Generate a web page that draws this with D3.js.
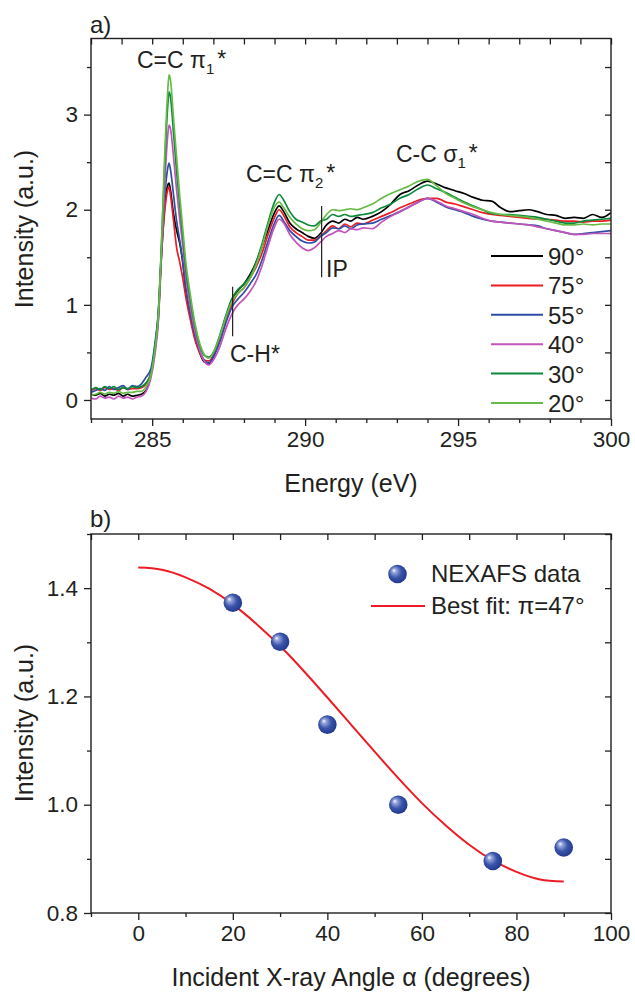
<!DOCTYPE html>
<html>
<head>
<meta charset="utf-8">
<script src="https://cdn.jsdelivr.net/npm/d3@7"></script>
<style>
  body { margin: 0; background: #fff; }
  text { font-family: "Liberation Sans", Arial, sans-serif; fill: #231f20; }
</style>
</head>
<body>
<div id="my_dataviz"></div>
<script>

// ---- data: panel a) NEXAFS spectra
var energy = [283.0,283.15,283.3,283.45,283.6,283.75,283.9,284.05,284.2,284.35,284.5,284.65,284.8,
  284.95,285.1,285.2,285.3,285.4,285.5,285.55,285.6,
  285.7,285.8,285.9,286.0,286.1,286.25,286.4,286.55,286.7,286.85,287.0,
  287.2,287.4,287.6,287.8,288.0,288.2,288.4,288.6,288.8,289.0,289.15,289.3,289.5,289.7,289.9,290.1,290.3,290.5,
  290.7,290.9,291.1,291.3,291.5,291.7,291.9,292.2,292.5,292.8,293.1,293.4,293.7,294.0,294.3,294.6,294.9,295.2,295.5,295.8,296.1,296.4,296.7,297.0,297.3,297.6,297.9,298.2,298.5,298.8,299.1,299.4,299.7,300.0];

var i90 = [0.06,0.05,0.07,0.04,0.06,0.05,0.07,0.04,0.06,0.04,0.05,0.06,0.10,
  0.25,0.55,0.85,1.5,2.0,2.25,2.28,2.2,
  1.95,1.78,1.65,1.45,1.15,0.88,0.66,0.5,0.4,0.38,0.45,
  0.63,0.85,1.05,1.15,1.22,1.32,1.45,1.62,1.8,1.97,2.04,1.98,1.86,1.8,1.76,1.72,1.7,1.75,
  1.84,1.88,1.86,1.9,1.88,1.92,1.9,1.93,1.98,2.06,2.16,2.2,2.26,2.3,2.27,2.23,2.2,2.17,2.13,2.1,2.09,2.02,1.98,1.99,2.0,1.98,1.95,1.94,1.91,1.92,1.91,1.95,1.92,1.97];

var i75 = [0.10,0.12,0.10,0.13,0.11,0.12,0.10,0.13,0.11,0.12,0.12,0.13,0.17,
  0.28,0.58,0.9,1.5,1.95,2.2,2.24,2.15,
  1.88,1.6,1.45,1.28,1.08,0.84,0.63,0.5,0.42,0.41,0.47,
  0.62,0.83,1.0,1.12,1.18,1.28,1.4,1.55,1.75,1.92,2.0,1.94,1.82,1.76,1.72,1.68,1.68,1.72,
  1.78,1.83,1.8,1.85,1.82,1.86,1.85,1.89,1.93,1.97,2.02,2.06,2.1,2.12,2.12,2.08,2.06,2.03,2.0,1.97,1.95,1.94,1.93,1.92,1.91,1.9,1.9,1.89,1.88,1.88,1.87,1.88,1.88,1.89];

var i55 = [0.08,0.10,0.12,0.10,0.14,0.11,0.13,0.15,0.11,0.15,0.14,0.17,0.24,
  0.32,0.62,0.92,1.55,2.1,2.42,2.49,2.42,
  2.15,1.88,1.68,1.45,1.18,0.9,0.68,0.52,0.42,0.39,0.46,
  0.6,0.8,0.97,1.06,1.13,1.22,1.32,1.48,1.68,1.86,1.94,1.88,1.78,1.72,1.67,1.65,1.66,1.72,
  1.76,1.81,1.8,1.83,1.8,1.84,1.85,1.86,1.9,1.94,1.98,2.03,2.08,2.12,2.08,2.03,2.0,1.97,1.93,1.9,1.88,1.87,1.86,1.85,1.84,1.83,1.8,1.78,1.76,1.74,1.75,1.76,1.77,1.78];

var i40 = [0.02,0.01,0.04,0.02,0.03,0.01,0.04,0.02,0.03,0.01,0.03,0.04,0.09,
  0.22,0.5,0.82,1.5,2.2,2.75,2.89,2.85,
  2.55,2.2,1.9,1.62,1.3,0.98,0.72,0.53,0.41,0.37,0.42,
  0.55,0.74,0.9,1.0,1.06,1.14,1.25,1.42,1.63,1.82,1.9,1.86,1.74,1.66,1.6,1.57,1.6,1.66,
  1.72,1.75,1.78,1.76,1.8,1.79,1.81,1.8,1.87,1.93,1.98,2.03,2.08,2.12,2.09,2.04,2.01,1.98,1.95,1.91,1.88,1.87,1.86,1.85,1.84,1.82,1.8,1.78,1.76,1.74,1.74,1.75,1.75,1.75];

var i30 = [0.10,0.13,0.11,0.14,0.12,0.14,0.11,0.13,0.12,0.14,0.13,0.14,0.18,
  0.27,0.58,0.9,1.6,2.4,3.05,3.24,3.18,
  2.8,2.4,2.05,1.72,1.38,1.05,0.78,0.58,0.47,0.45,0.5,
  0.67,0.88,1.06,1.16,1.22,1.3,1.45,1.65,1.88,2.08,2.16,2.1,1.98,1.9,1.87,1.84,1.83,1.88,
  1.9,1.95,1.93,1.95,1.93,1.94,1.95,1.97,2.02,2.06,2.12,2.16,2.22,2.26,2.22,2.18,2.13,2.08,2.04,2.0,1.96,1.95,1.95,1.94,1.93,1.92,1.9,1.88,1.86,1.86,1.88,1.89,1.9,1.91];

var i20 = [0.05,0.06,0.08,0.06,0.08,0.07,0.09,0.07,0.08,0.08,0.09,0.09,0.14,
  0.25,0.55,0.88,1.6,2.5,3.2,3.42,3.36,
  2.95,2.55,2.15,1.8,1.45,1.1,0.8,0.6,0.48,0.44,0.5,
  0.66,0.86,1.03,1.12,1.18,1.28,1.42,1.62,1.85,2.03,2.08,2.02,1.92,1.85,1.8,1.78,1.79,1.86,
  1.95,2.0,1.99,2.0,2.01,2.0,2.02,2.06,2.12,2.17,2.21,2.25,2.3,2.32,2.25,2.17,2.12,2.07,2.03,2.0,1.97,1.95,1.94,1.93,1.92,1.9,1.88,1.86,1.84,1.84,1.85,1.84,1.85,1.85];

var seriesNames = ["90°", "75°", "55°", "40°", "30°", "20°"];
var seriesData = [i90, i75, i55, i40, i30, i20];
var seriesColors = ["#000000", "#ed1c24", "#2e4ea6", "#c254bc", "#0b8a3b", "#65bb46"];

// ---- data: panel b) intensity vs angle
var angles = [20, 30, 40, 55, 75, 90];
var intensity = [1.373, 1.301, 1.148, 1.0, 0.896, 0.921];
var fitAngle = [0,5,10,15,20,25,30,35,40,45,50,55,60,65,70,75,80,85,90];
var fitValue = [1.438,1.434,1.420,1.399,1.370,1.334,1.293,1.247,1.198,1.148,1.098,1.049,1.003,0.962,0.926,0.897,0.876,0.862,0.858];

var svg = d3.select("#my_dataviz")
  .append("svg")
    .attr("width", 635)
    .attr("height", 992);

var ink = "#231f20";
var tickFont = 22.5, titleFont = 25, legFont = 24;

// draws the box, outward ticks on left/bottom and inward mirrored ticks on top/right
function frame(x, y, xMajor, xMinor, yMajor, yMinor, yFmt) {
  var x0 = x.range()[0], x1 = x.range()[1], y0 = y.range()[0], y1 = y.range()[1];
  var g = svg.append("g");
  function style(sel) {
    sel.select(".domain").remove();
    sel.selectAll("line").attr("stroke", ink).attr("stroke-width", 1.3);
    sel.selectAll("text").attr("font-size", tickFont).style("fill", ink);
  }
  g.append("g").attr("transform", "translate(0," + y0 + ")")
    .call(d3.axisBottom(x).tickValues(xMajor).tickSize(7).tickPadding(5).tickFormat(d3.format("d"))).call(style);
  g.append("g").attr("transform", "translate(0," + y0 + ")")
    .call(d3.axisBottom(x).tickValues(xMinor).tickSize(4).tickFormat("")).call(style);
  g.append("g").attr("transform", "translate(0," + y1 + ")")
    .call(d3.axisTop(x).tickValues(xMajor.concat(xMinor)).tickSize(-6).tickFormat("")).call(style);
  g.append("g").attr("transform", "translate(" + x0 + ",0)")
    .call(d3.axisLeft(y).tickValues(yMajor).tickSize(7).tickPadding(6).tickFormat(yFmt)).call(style);
  g.append("g").attr("transform", "translate(" + x0 + ",0)")
    .call(d3.axisLeft(y).tickValues(yMinor).tickSize(4).tickFormat("")).call(style);
  g.append("g").attr("transform", "translate(" + x1 + ",0)")
    .call(d3.axisRight(y).tickValues(yMajor.concat(yMinor)).tickSize(-6).tickFormat("")).call(style);
  g.append("rect")
    .attr("x", x0).attr("y", y1).attr("width", x1 - x0).attr("height", y0 - y1)
    .attr("fill", "none").attr("stroke", ink).attr("stroke-width", 1.4);
}

// ================= panel a)
var xa = d3.scaleLinear().domain([283, 300]).range([91, 611]);
var ya = d3.scaleLinear().domain([-0.2, 3.8]).range([419, 38.5]);

svg.append("clipPath").attr("id", "clipA")
  .append("rect").attr("x", 91).attr("y", 38.5).attr("width", 520).attr("height", 380.5);

var line = d3.line()
  .x(function(d) { return xa(d[0]); })
  .y(function(d) { return ya(d[1]); })
  .curve(d3.curveMonotoneX);

svg.append("g").attr("clip-path", "url(#clipA)")
  .selectAll("path")
  .data(seriesData)
  .enter()
  .append("path")
    .attr("fill", "none")
    .attr("stroke", function(d, i) { return seriesColors[i]; })
    .attr("stroke-width", 1.7)
    .attr("stroke-linejoin", "round")
    .attr("d", function(d) { return line(energy.map(function(e, k) { return [e, d[k]]; })); });

frame(xa, ya, [285, 290, 295, 300],
  [283, 284, 286, 287, 288, 289, 291, 292, 293, 294, 296, 297, 298, 299],
  [0, 1, 2, 3], [0.5, 1.5, 2.5, 3.5], d3.format("d"));

// axis titles
svg.append("text").attr("x", 351).attr("y", 492).attr("text-anchor", "middle")
  .attr("font-size", titleFont).text("Energy (eV)");
svg.append("text").attr("transform", "translate(33,229) rotate(-90)").attr("text-anchor", "middle")
  .attr("font-size", titleFont).text("Intensity (a.u.)");
svg.append("text").attr("x", 90).attr("y", 33).attr("font-size", 24).text("a)");

// peak labels
function peakLabel(x, y, main, sub) {
  var t = svg.append("text").attr("x", x).attr("y", y).attr("font-size", 23);
  t.append("tspan").text(main);
  t.append("tspan").attr("dy", 6).attr("font-size", 15).text(sub);
  t.append("tspan").attr("dy", -7).attr("dx", 3).text("*");
}
peakLabel(137, 68, "C=C π", "1");
peakLabel(246, 182, "C=C π", "2");
peakLabel(396, 162, "C-C σ", "1");

// C-H* and IP markers
svg.append("line")
  .attr("x1", xa(287.63)).attr("x2", xa(287.63))
  .attr("y1", ya(1.19)).attr("y2", ya(0.67))
  .attr("stroke", ink).attr("stroke-width", 1.2);
svg.append("text").attr("x", 230).attr("y", 362).attr("font-size", 23).text("C-H*");
svg.append("line")
  .attr("x1", xa(290.54)).attr("x2", xa(290.54))
  .attr("y1", ya(2.04)).attr("y2", ya(1.29))
  .attr("stroke", ink).attr("stroke-width", 1.2);
svg.append("text").attr("x", 326).attr("y", 277).attr("font-size", 23).text("IP");

// legend a)
var legA = svg.append("g");
seriesNames.forEach(function(name, i) {
  var yy = 256 + i * 29.4;
  legA.append("line").attr("x1", 491).attr("x2", 543).attr("y1", yy).attr("y2", yy)
    .attr("stroke", seriesColors[i]).attr("stroke-width", 2);
  legA.append("text").attr("x", 548).attr("y", yy + 9).attr("font-size", legFont).text(name);
});

// ================= panel b)
var xb = d3.scaleLinear().domain([-10, 100]).range([91, 611]);
var yb = d3.scaleLinear().domain([0.8, 1.5]).range([913, 534]);

var defs = svg.append("defs");
var grad = defs.append("radialGradient").attr("id", "ball")
  .attr("cx", "45%").attr("cy", "45%").attr("r", "60%").attr("fx", "30%").attr("fy", "30%");
grad.append("stop").attr("offset", "0%").attr("stop-color", "#ffffff");
grad.append("stop").attr("offset", "18%").attr("stop-color", "#9aa8dc");
grad.append("stop").attr("offset", "55%").attr("stop-color", "#3a54aa");
grad.append("stop").attr("offset", "100%").attr("stop-color", "#1f3688");

frame(xb, yb, [0, 20, 40, 60, 80, 100], [-10, 10, 30, 50, 70, 90],
  [0.8, 1.0, 1.2, 1.4], [0.9, 1.1, 1.3, 1.5], d3.format(".1f"));

var fitLine = d3.line()
  .x(function(d, i) { return xb(fitAngle[i]); })
  .y(function(d) { return yb(d); })
  .curve(d3.curveNatural);

svg.append("path")
  .attr("d", fitLine(fitValue))
  .attr("fill", "none")
  .attr("stroke", "#ed1c24")
  .attr("stroke-width", 2);

svg.selectAll("circle.pt")
  .data(intensity)
  .enter()
  .append("circle")
    .attr("class", "pt")
    .attr("cx", function(d, i) { return xb(angles[i]); })
    .attr("cy", function(d) { return yb(d); })
    .attr("r", 9.3)
    .attr("fill", "url(#ball)");

svg.append("text").attr("x", 351).attr("y", 986).attr("text-anchor", "middle")
  .attr("font-size", titleFont).text("Incident X-ray Angle α (degrees)");
svg.append("text").attr("transform", "translate(33,723) rotate(-90)").attr("text-anchor", "middle")
  .attr("font-size", titleFont).text("Intensity (a.u.)");
svg.append("text").attr("x", 90).attr("y", 527).attr("font-size", 24).text("b)");

// legend b)
svg.append("circle").attr("cx", 397.5).attr("cy", 574).attr("r", 9.3).attr("fill", "url(#ball)");
svg.append("text").attr("x", 431).attr("y", 582).attr("font-size", legFont).text("NEXAFS data");
svg.append("line").attr("x1", 371).attr("x2", 425).attr("y1", 606).attr("y2", 606)
  .attr("stroke", "#ed1c24").attr("stroke-width", 2);
svg.append("text").attr("x", 431).attr("y", 614).attr("font-size", legFont).text("Best fit: π=47°");

</script>
</body>
</html>
